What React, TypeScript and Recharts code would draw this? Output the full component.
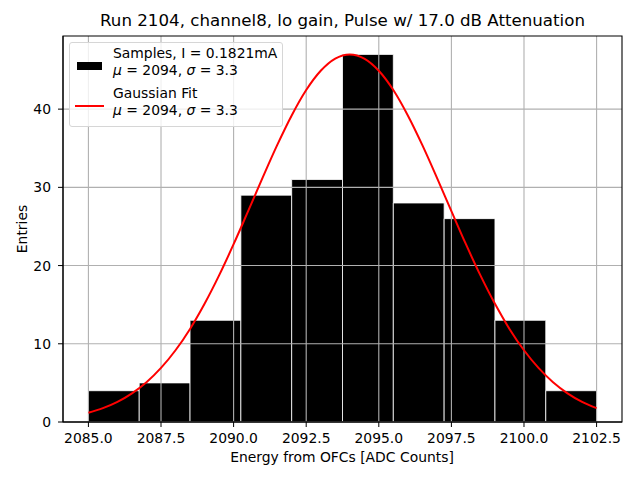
import React from 'react';
import {
  ComposedChart,
  Line,
  XAxis,
  YAxis,
  CartesianGrid,
  ReferenceArea,
} from 'recharts';

// histogram bins (left edges), bin width and counts
const binEdges = [2085, 2086.75, 2088.5, 2090.25, 2092, 2093.75, 2095.5, 2097.25, 2099, 2100.75, 2102.5];
const counts = [4, 5, 13, 29, 31, 47, 28, 26, 13, 4];

// gaussian fit curve
const fitX = [
  2085, 2085.5, 2086, 2086.5, 2087, 2087.5, 2088, 2088.5, 2089, 2089.5, 2090, 2090.5,
  2091, 2091.5, 2092, 2092.5, 2093, 2093.5, 2094, 2094.5, 2095, 2095.5, 2096, 2096.5,
  2097, 2097.5, 2098, 2098.5, 2099, 2099.5, 2100, 2100.5, 2101, 2101.5, 2102, 2102.5,
];
const fitY = [
  1.19, 1.77, 2.57, 3.66, 5.08, 6.91, 9.17, 11.9, 15.11, 18.74, 22.73, 26.96,
  31.24, 35.39, 39.19, 42.44, 44.91, 46.47, 47.0, 46.47, 44.91, 42.44, 39.19, 35.39,
  31.24, 26.96, 22.73, 18.74, 15.11, 11.9, 9.17, 6.91, 5.08, 3.66, 2.57, 1.77,
];

const xTicks = [2085, 2087.5, 2090, 2092.5, 2095, 2097.5, 2100, 2102.5];
const yTicks = [0, 10, 20, 30, 40];
const xDomain = [2084.125, 2103.375];
const yDomain = [0, 49.35];

const FONT = 'DejaVu Sans, sans-serif';

const curve = fitX.map((x, i) => ({ x, fit: fitY[i] }));

const Legend = () => (
  <div
    style={{
      position: 'absolute',
      left: 69,
      top: 42,
      width: 212,
      height: 83,
      border: '1px solid #d6d6d6',
      borderRadius: 3,
      background: 'rgba(255,255,255,0.8)',
      fontFamily: FONT,
      fontSize: 13.9,
      color: '#000',
    }}
  >
    <div style={{ position: 'absolute', left: 7, top: 19, width: 25, height: 8, background: '#000' }} />
    <div style={{ position: 'absolute', left: 5, top: 62, width: 29, height: 2, background: 'red' }} />
    <div style={{ position: 'absolute', left: 43, top: 2, lineHeight: '17.4px', whiteSpace: 'nowrap' }}>
      <div>Samples, I = 0.1821mA</div>
      <div>
        <i>μ</i> = 2094, <i>σ</i> = 3.3
      </div>
      <div style={{ marginTop: 5 }}>Gaussian Fit</div>
      <div>
        <i>μ</i> = 2094, <i>σ</i> = 3.3
      </div>
    </div>
  </div>
);

export default function App() {
  return (
    <div style={{ position: 'absolute', left: 0, top: 0, width: 640, height: 480, background: '#fff' }}>
      <div
        style={{
          position: 'absolute',
          left: 0,
          width: 685,
          top: 11,
          textAlign: 'center',
          fontFamily: FONT,
          fontSize: 16.67,
          whiteSpace: 'nowrap',
        }}
      >
        Run 2104, channel8, lo gain, Pulse w/ 17.0 dB Attenuation
      </div>
      <ComposedChart
        width={640}
        height={480}
        data={curve}
        margin={{ top: 36, right: 18, bottom: 0, left: 0 }}
        style={{ position: 'absolute', left: 0, top: 0 }}
      >
        {binEdges.slice(0, -1).map((x1, i) => (
          <ReferenceArea
            key={i}
            x1={x1}
            x2={binEdges[i + 1]}
            y1={0}
            y2={counts[i]}
            fill="#000"
            fillOpacity={1}
            stroke="#fff"
            strokeWidth={1}
            strokeOpacity={0.8}
            zIndex={100}
          />
        ))}
        <CartesianGrid
          stroke="#b0b0b0"
          strokeWidth={1.1}
          horizontalValues={yTicks}
          verticalValues={xTicks}
          zIndex={200}
        />
        {/* axes frame (top and right spines too) */}
        <ReferenceArea
          x1={xDomain[0]}
          x2={xDomain[1]}
          y1={yDomain[0]}
          y2={yDomain[1]}
          fill="none"
          stroke="#000"
          strokeWidth={1.1}
          ifOverflow="visible"
          zIndex={600}
        />
        <XAxis
          dataKey="x"
          type="number"
          domain={xDomain}
          ticks={xTicks}
          allowDataOverflow
          tickFormatter={(v: number) => v.toFixed(1)}
          height={58}
          tickSize={5}
          tickMargin={6}
          stroke="#000"
          tick={{ fill: '#000', fontSize: 13.9, fontFamily: FONT }}
          label={{
            content: () => (
              <text x={342} y={462} textAnchor="middle" fontFamily={FONT} fontSize={13.9} fill="#000">
                Energy from OFCs [ADC Counts]
              </text>
            ),
          }}
        />
        <YAxis
          type="number"
          domain={yDomain}
          ticks={yTicks}
          allowDataOverflow
          width={63}
          tickSize={5}
          tickMargin={7}
          stroke="#000"
          tick={{ fill: '#000', fontSize: 13.9, fontFamily: FONT }}
          label={{
            content: () => (
              <text
                x={22}
                y={229}
                transform="rotate(-90 22 229)"
                textAnchor="middle"
                dominantBaseline="central"
                fontFamily={FONT}
                fontSize={13.9}
                fill="#000"
              >
                Entries
              </text>
            ),
          }}
        />
        <Line
          dataKey="fit"
          type="monotone"
          stroke="red"
          strokeWidth={2}
          dot={false}
          isAnimationActive={false}
          zIndex={400}
        />
      </ComposedChart>
      <Legend />
    </div>
  );
}
